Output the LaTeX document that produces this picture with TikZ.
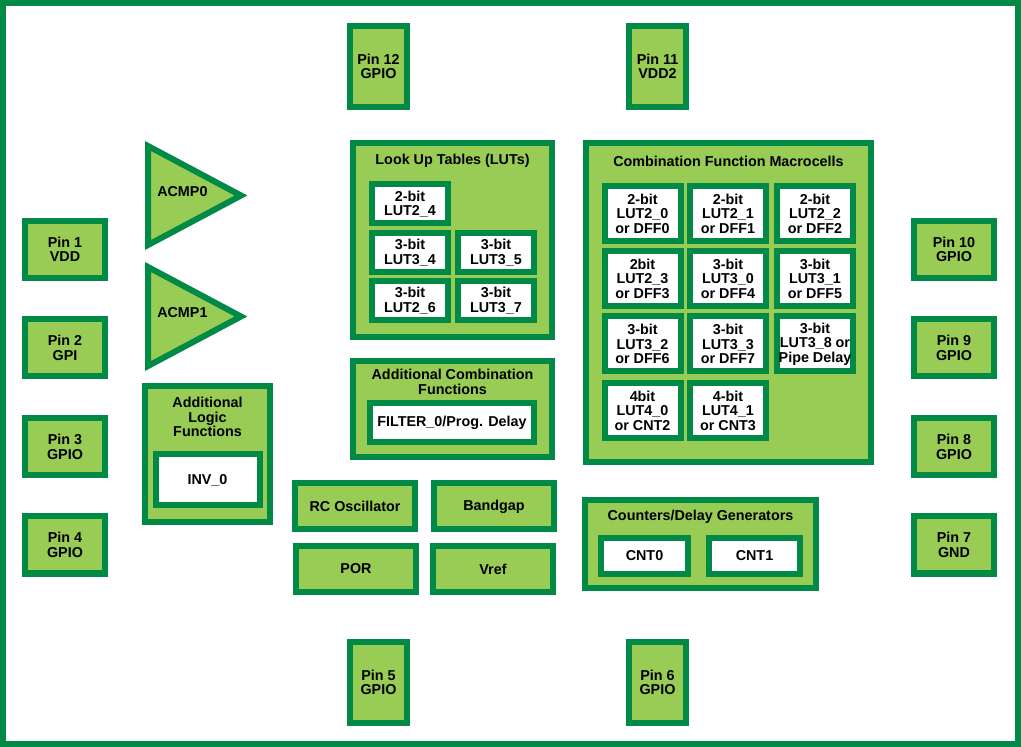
\documentclass[tikz,border=0pt]{standalone}
\usepackage{fontspec}
\setmainfont{Liberation Sans}
\usepackage{tikz}
\definecolor{chipgreen}{RGB}{0,138,69}
\definecolor{padgreen}{RGB}{153,204,85}
\tikzset{
  blk/.style 2 args={draw=chipgreen, fill=padgreen, line width=0.15cm, inner sep=0pt,
    align=center, minimum width={(#1-6)*0.025cm}, minimum height={(#2-6)*0.025cm}},
  cell/.style 2 args={blk={#1}{#2}, fill=white},
  title/.style={inner sep=0pt, align=center},
}

\begin{document}
\begin{tikzpicture}[x=0.025cm, y=-0.025cm, font=\fontsize{10.2}{10.3}\selectfont\bfseries]
   \useasboundingbox (0,0) rectangle (1021,747);
   \draw[line width=0.15cm, chipgreen] (3,3) rectangle (1018,744);

   % pins
   \draw (378.5,66.5) node[blk={63}{87}] (pin12) {Pin 12\\GPIO};
   \draw (657.5,66.5) node[blk={63}{87}] (pin11) {Pin 11\\VDD2};
   \draw (378.5,682.5) node[blk={63}{87}] (pin5) {Pin 5\\GPIO};
   \draw (657.5,682.5) node[blk={63}{87}] (pin6) {Pin 6\\GPIO};
   \draw (65,249.5) node[blk={86}{63}] (pin1) {Pin 1\\VDD};
   \draw (65,348) node[blk={86}{63}] (pin2) {Pin 2\\GPI};
   \draw (65,447) node[blk={86}{63}] (pin3) {Pin 3\\GPIO};
   \draw (65,545) node[blk={86}{63}] (pin4) {Pin 4\\GPIO};
   \draw (954,249.5) node[blk={86}{63}] (pin10) {Pin 10\\GPIO};
   \draw (954,348) node[blk={86}{63}] (pin9) {Pin 9\\GPIO};
   \draw (954,447) node[blk={86}{63}] (pin8) {Pin 8\\GPIO};
   \draw (954,545) node[blk={86}{63}] (pin7) {Pin 7\\GND};

   % comparators
   \draw[draw=chipgreen, fill=padgreen, line width=0.15cm, line join=miter]
     (148,146) -- (148,245) -- (241,195.5) -- cycle;
   \draw[draw=chipgreen, fill=padgreen, line width=0.15cm, line join=miter]
     (148,267) -- (148,366) -- (241,316.5) -- cycle;
   \draw (157,192) node[title, anchor=west] (acmp0) {ACMP0};
   \draw (157,313) node[title, anchor=west] (acmp1) {ACMP1};

   % additional logic
   \draw (207.5,454) node[blk={131}{142}] (addlogic) {};
   \draw (207.5,417) node[title] (addlogictxt) {Additional\\Logic\\Functions};
   \draw (207.5,480) node[cell={110}{57}] (inv0) {INV\_0};

   % look up tables
   \draw (452.5,240) node[blk={205}{200}] (luts) {};
   \draw (452.5,161) node[title] (lutstxt) {Look Up Tables (LUTs)};
   \draw (410,204) node[cell={82}{45}] (lut24) {2-bit\\LUT2\_4};
   \draw (410,252.5) node[cell={82}{45}] (lut34) {3-bit\\LUT3\_4};
   \draw (496,252.5) node[cell={82}{45}] (lut35) {3-bit\\LUT3\_5};
   \draw (410,300.5) node[cell={82}{45}] (lut26) {3-bit\\LUT2\_6};
   \draw (496,300.5) node[cell={82}{45}] (lut37) {3-bit\\LUT3\_7};

   % additional combination functions
   \draw (452.5,409) node[blk={205}{102}] (addcomb) {};
   \draw (452.5,382) node[title] (addcombtxt) {Additional Combination\\Functions};
   \draw (452,423) node[cell={170}{45}] (filter0) {FILTER\_0/Prog. Delay};

   % macrocells
   \draw (728.5,302.5) node[blk={291}{325}] (macro) {};
   \draw (728.5,161) node[title] (macrotxt) {Combination Function Macrocells};
   \draw (642.5,213.5) node[cell={82}{61}] (m20) {2-bit\\LUT2\_0\\or DFF0};
   \draw (728,213.5) node[cell={82}{61}] (m21) {2-bit\\LUT2\_1\\or DFF1};
   \draw (815,213.5) node[cell={82}{61}] (m22) {2-bit\\LUT2\_2\\or DFF2};
   \draw (642.5,278.5) node[cell={82}{61}] (m23) {2bit\\LUT2\_3\\or DFF3};
   \draw (728,278.5) node[cell={82}{61}] (m30) {3-bit\\LUT3\_0\\or DFF4};
   \draw (815,278.5) node[cell={82}{61}] (m31) {3-bit\\LUT3\_1\\or DFF5};
   \draw (642.5,344) node[cell={82}{61}] (m32) {3-bit\\LUT3\_2\\or DFF6};
   \draw (728,344) node[cell={82}{61}] (m33) {3-bit\\LUT3\_3\\or DFF7};
   \draw (815,344) node[cell={82}{61}] (m38) {3-bit\\LUT3\_8 or\\Pipe Delay};
   \draw (642.5,410.5) node[cell={82}{61}] (m40) {4bit\\LUT4\_0\\or CNT2};
   \draw (728,410.5) node[cell={82}{61}] (m41) {4-bit\\LUT4\_1\\or CNT3};

   % analog blocks
   \draw (355,506.5) node[blk={126}{52}] (rcosc) {RC Oscillator};
   \draw (494,506.5) node[blk={126}{52}] (bandgap) {Bandgap};
   \draw (356,569) node[blk={126}{52}] (por) {POR};
   \draw (493,569) node[blk={126}{52}] (vref) {Vref};

   % counters
   \draw (700.5,544) node[blk={237}{94}] (counters) {};
   \draw (700.5,517) node[title] (counterstxt) {Counters/Delay Generators};
   \draw (644.5,556) node[cell={93}{42}] (cnt0) {CNT0};
   \draw (754.5,556) node[cell={97}{42}] (cnt1) {CNT1};
\end{tikzpicture}
\end{document}
